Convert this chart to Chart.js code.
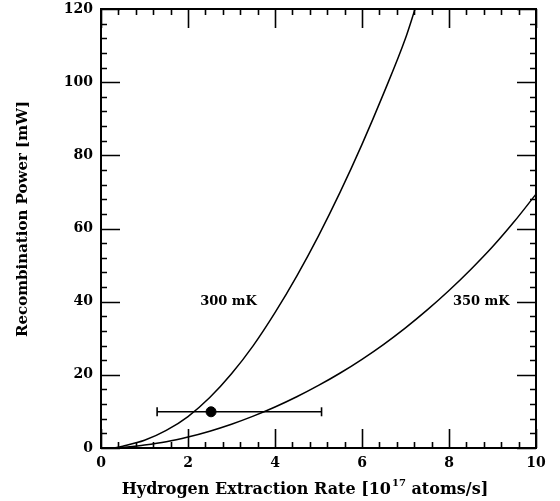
<!DOCTYPE html>
<html>
<head>
<meta charset="utf-8">
<script src="https://cdn.jsdelivr.net/npm/chart.js@4"></script>
<style>
  html, body { margin: 0; padding: 0; background: #fff; }
  #wrap { width: 560px; height: 501px; }
</style>
</head>
<body>
<div id="wrap"><canvas id="chart" width="560" height="501"></canvas></div>
<script>
  // values
  const xTickLabels = [0, 2, 4, 6, 8, 10];
  const yTickLabels = [0, 20, 40, 60, 80, 100, 120];

  const curve300X = [0.3, 0.5, 1, 1.5, 2, 2.5, 3, 3.5, 4, 4.5, 5, 5.5, 6, 6.5, 7, 7.22];
  const curve300Y = [0, 0.5, 2.1, 4.8, 8.6, 13.8, 20.3, 28.0, 37.0, 47.0, 58.0, 70.0, 83.0, 97.0, 112.0, 120];

  const curve350X = [0.4, 1, 1.5, 2, 2.5, 3, 3.5, 4, 4.5, 5, 5.5, 6, 6.5, 7, 7.5, 8, 8.5, 9, 9.5, 10];
  const curve350Y = [0, 0.8, 1.7, 3.0, 4.6, 6.5, 8.7, 11.2, 14.0, 17.1, 20.5, 24.25, 28.35, 32.85, 37.75, 43.05, 48.8, 55.0, 61.9, 69.4];

  const measuredX = [2.53];
  const measuredY = [9.9];
  const measuredXLow = [1.29];
  const measuredXHigh = [5.07];

  const curveLabels = ['300 mK', '350 mK'];
  const curveLabelX = [2.28, 8.09];
  const curveLabelY = [40, 40];

  const xTitle = ['Hydrogen Extraction Rate [10', '17', ' atoms/s]'];
  const yTitle = 'Recombination Power [mW]';

  const FONT = '"DejaVu Serif", serif';
  const toPoints = (xs, ys) => xs.map((x, i) => ({ x, y: ys[i] }));

  const frameAndTicks = {
    id: 'frameAndTicks',
    afterDatasetsDraw(chart) {
      const { ctx, chartArea: a, scales: { x, y } } = chart;
      ctx.save();
      ctx.strokeStyle = '#000';
      ctx.lineWidth = 1.6;
      ctx.beginPath();
      for (let v = 0; v <= 10.001; v += 0.4) {
        const major = Math.abs(v / 2 - Math.round(v / 2)) < 1e-6;
        const len = major ? 19 : 6;
        const px = Math.round(x.getPixelForValue(v)) + 0.5;
        ctx.moveTo(px, a.bottom); ctx.lineTo(px, a.bottom - len);
        ctx.moveTo(px, a.top); ctx.lineTo(px, a.top + len);
      }
      for (let v = 0; v <= 120.001; v += 4) {
        const major = v % 20 === 0;
        const len = major ? 19 : 6;
        const py = Math.round(y.getPixelForValue(v)) + 0.5;
        ctx.moveTo(a.left, py); ctx.lineTo(a.left + len, py);
        ctx.moveTo(a.right, py); ctx.lineTo(a.right - len, py);
      }
      ctx.stroke();
      ctx.lineWidth = 2;
      ctx.strokeRect(a.left, a.top, a.right - a.left, a.bottom - a.top);

      ctx.fillStyle = '#000';
      ctx.font = 'bold 13px ' + FONT;
      ctx.textAlign = 'left';
      ctx.textBaseline = 'middle';
      curveLabels.forEach((t, i) => {
        ctx.fillText(t, x.getPixelForValue(curveLabelX[i]), y.getPixelForValue(curveLabelY[i]));
      });

      // axis titles (drawn by hand for the superscript)
      ctx.textBaseline = 'alphabetic';
      const big = 'bold 16px ' + FONT;
      const small = 'bold 10px ' + FONT;
      ctx.font = big;
      const w0 = ctx.measureText(xTitle[0]).width;
      const w2 = ctx.measureText(xTitle[2]).width;
      ctx.font = small;
      const w1 = ctx.measureText(xTitle[1]).width + 1;
      const tx = 305 - (w0 + w1 + w2) / 2;
      const ty = 494;
      ctx.font = big;
      ctx.fillText(xTitle[0], tx, ty);
      ctx.font = small;
      ctx.fillText(xTitle[1], tx + w0 + 1, ty - 8);
      ctx.font = big;
      ctx.fillText(xTitle[2], tx + w0 + w1, ty);

      ctx.translate(23, 219);
      ctx.rotate(-Math.PI / 2);
      ctx.font = 'bold 15px ' + FONT;
      ctx.textAlign = 'center';
      ctx.textBaseline = 'middle';
      ctx.fillText(yTitle, 0, 0);
      ctx.restore();
    }
  };

  new Chart(document.getElementById('chart'), {
    type: 'scatter',
    data: {
      datasets: [
        {
          data: toPoints(curve300X, curve300Y),
          showLine: true,
          borderColor: '#000',
          borderWidth: 1.5,
          pointRadius: 0,
          cubicInterpolationMode: 'monotone',
        },
        {
          data: toPoints(curve350X, curve350Y),
          showLine: true,
          borderColor: '#000',
          borderWidth: 1.5,
          pointRadius: 0,
          cubicInterpolationMode: 'monotone',
        },
        {
          data: [{ x: measuredXLow[0], y: measuredY[0] }, { x: measuredXHigh[0], y: measuredY[0] }],
          showLine: true,
          borderColor: '#000',
          borderWidth: 1.6,
          pointStyle: 'line',
          rotation: 90,
          pointRadius: 4.5,
          pointBorderWidth: 1.6,
        },
        {
          data: toPoints(measuredX, measuredY),
          pointRadius: 5,
          backgroundColor: '#000',
          borderColor: '#000',
        },
      ],
    },
    options: {
      responsive: false,
      animation: false,
      layout: { padding: { top: 9, right: 24, left: 0, bottom: 0 } },
      plugins: { legend: { display: false }, tooltip: { enabled: false } },
      scales: {
        x: {
          type: 'linear',
          min: 0,
          max: 10,
          afterBuildTicks: (s) => { s.ticks = xTickLabels.map((value) => ({ value })); },
          afterFit: (s) => { s.height = 53; s.paddingLeft = 0; s.paddingRight = 0; },
          grid: { display: false, drawTicks: false },
          border: { display: false },
          ticks: { color: '#000', font: { family: FONT, size: 14, weight: 'bold' }, padding: 7, maxRotation: 0 },
        },
        y: {
          type: 'linear',
          min: 0,
          max: 120,
          afterBuildTicks: (s) => { s.ticks = yTickLabels.map((value) => ({ value })); },
          afterFit: (s) => { s.width = 101; s.paddingTop = 0; s.paddingBottom = 0; },
          grid: { display: false, drawTicks: false },
          border: { display: false },
          ticks: { color: '#000', font: { family: FONT, size: 14, weight: 'bold' }, padding: 8 },
        },
      },
    },
    plugins: [frameAndTicks],
  });
</script>
</body>
</html>
